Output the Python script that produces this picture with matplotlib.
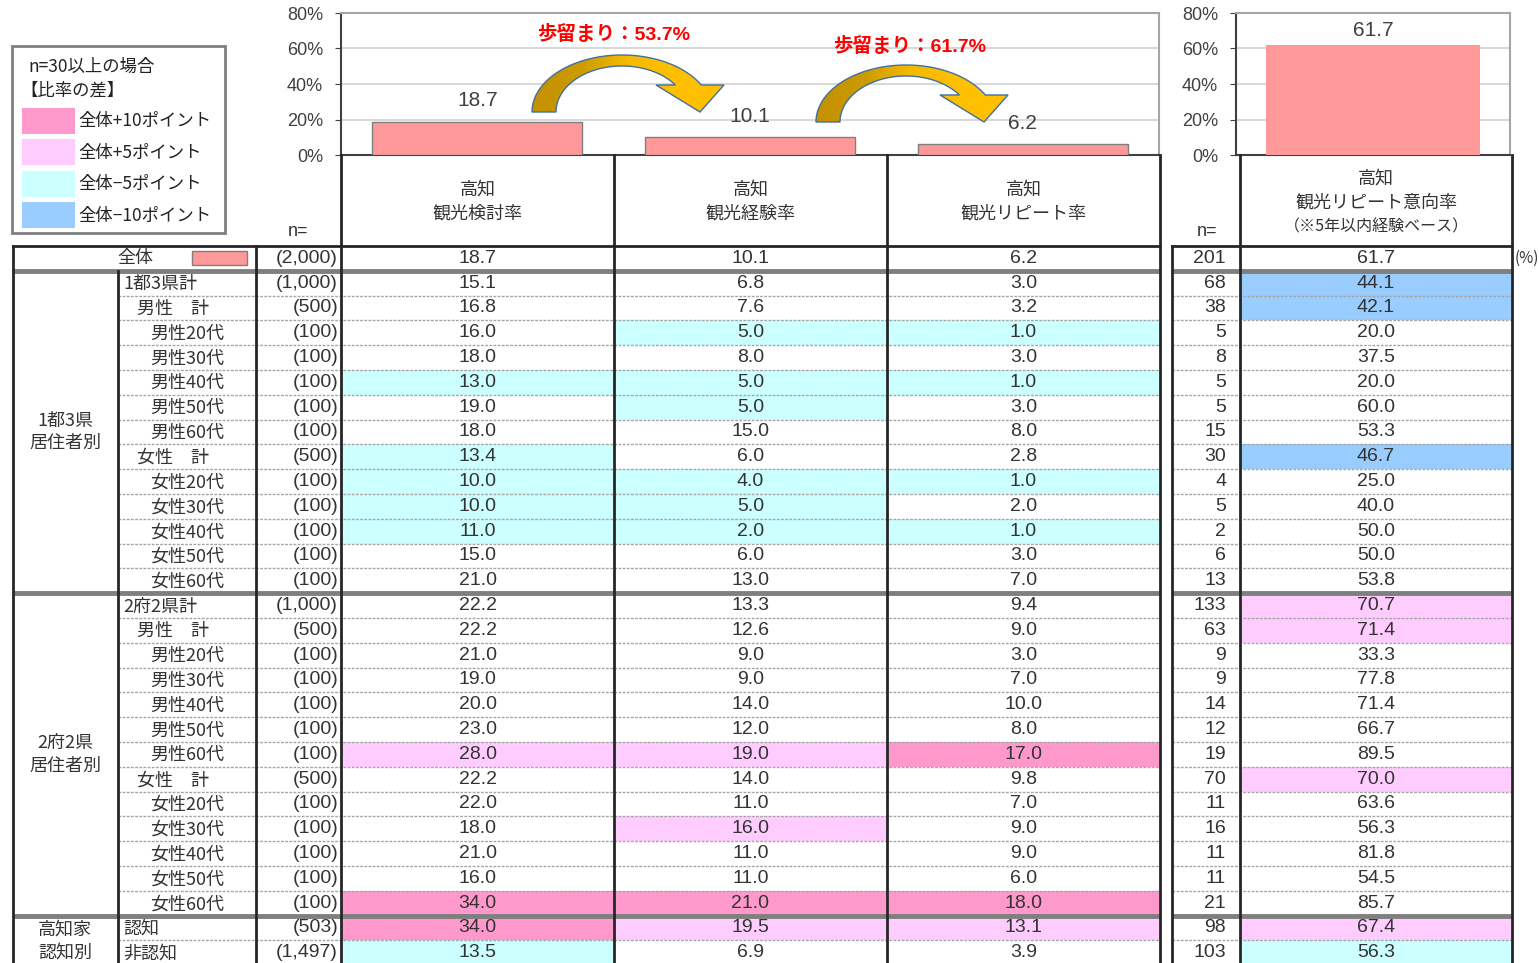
import matplotlib
matplotlib.use('Agg')
import matplotlib.pyplot as plt
import numpy as np
from matplotlib.path import Path
from matplotlib.patches import PathPatch, Rectangle
from matplotlib.colors import LinearSegmentedColormap
from matplotlib.ticker import FuncFormatter

plt.rcParams['font.family'] = ['Liberation Sans', 'Noto Sans CJK JP', 'DejaVu Sans']
JP = ['Noto Sans CJK JP', 'DejaVu Sans']
NUM = ['Liberation Sans Narrow', 'Liberation Sans', 'Noto Sans CJK JP']

# ---- data ----
funnel_cols = ['観光検討率', '観光経験率', '観光リピート率']
funnel_total = [18.7, 10.1, 6.2]
yield_text = ['歩留まり：53.7%', '歩留まり：61.7%']
intent_total = 61.7
n_total = 2000
n_intent_total = 201

group_names = ['1都3県\n居住者別', '2府2県\n居住者別', '高知家\n認知別']
group_sizes = [13, 13, 2]
row_labels = ['1都3県計', '男性　計', '男性20代', '男性30代', '男性40代', '男性50代', '男性60代',
              '女性　計', '女性20代', '女性30代', '女性40代', '女性50代', '女性60代',
              '2府2県計', '男性　計', '男性20代', '男性30代', '男性40代', '男性50代', '男性60代',
              '女性　計', '女性20代', '女性30代', '女性40代', '女性50代', '女性60代',
              '認知', '非認知']
row_level = [0, 1, 2, 2, 2, 2, 2, 1, 2, 2, 2, 2, 2,
             0, 1, 2, 2, 2, 2, 2, 1, 2, 2, 2, 2, 2,
             0, 0]
n_base = [1000, 500, 100, 100, 100, 100, 100, 500, 100, 100, 100, 100, 100,
          1000, 500, 100, 100, 100, 100, 100, 500, 100, 100, 100, 100, 100,
          503, 1497]
rate_consider = [15.1, 16.8, 16.0, 18.0, 13.0, 19.0, 18.0, 13.4, 10.0, 10.0, 11.0, 15.0, 21.0,
                 22.2, 22.2, 21.0, 19.0, 20.0, 23.0, 28.0, 22.2, 22.0, 18.0, 21.0, 16.0, 34.0,
                 34.0, 13.5]
rate_experience = [6.8, 7.6, 5.0, 8.0, 5.0, 5.0, 15.0, 6.0, 4.0, 5.0, 2.0, 6.0, 13.0,
                   13.3, 12.6, 9.0, 9.0, 14.0, 12.0, 19.0, 14.0, 11.0, 16.0, 11.0, 11.0, 21.0,
                   19.5, 6.9]
rate_repeat = [3.0, 3.2, 1.0, 3.0, 1.0, 3.0, 8.0, 2.8, 1.0, 2.0, 1.0, 3.0, 7.0,
               9.4, 9.0, 3.0, 7.0, 10.0, 8.0, 17.0, 9.8, 7.0, 9.0, 9.0, 6.0, 18.0,
               13.1, 3.9]
n_intent = [68, 38, 5, 8, 5, 5, 15, 30, 4, 5, 2, 6, 13,
            133, 63, 9, 9, 14, 12, 19, 70, 11, 16, 11, 11, 21,
            98, 103]
rate_intent = [44.1, 42.1, 20.0, 37.5, 20.0, 60.0, 53.3, 46.7, 25.0, 40.0, 50.0, 50.0, 53.8,
               70.7, 71.4, 33.3, 77.8, 71.4, 66.7, 89.5, 70.0, 63.6, 56.3, 81.8, 54.5, 85.7,
               67.4, 56.3]

legend_labels = ['全体+10ポイント', '全体+5ポイント', '全体−5ポイント', '全体−10ポイント']
legend_colors = ['#FF99CC', '#FFCCFF', '#CCFFFF', '#99CCFF']
BAR = '#FF9999'
TXT = '#333333'


def diff_color(v, base, n):
    if n < 30:
        return None
    d = v - base
    if d >= 10:
        return legend_colors[0]
    if d >= 5:
        return legend_colors[1]
    if d <= -10:
        return legend_colors[3]
    if d <= -5:
        return legend_colors[2]
    return None


W, H = 1539, 963
fig = plt.figure(figsize=(W / 100, H / 100), dpi=100)


def style_chart(ax):
    ax.set_ylim(0, 80)
    ax.set_yticks(range(0, 81, 20))
    ax.yaxis.set_major_formatter(FuncFormatter(lambda v, p: f'{v:.0f}%'))
    ax.set_xticks([])
    ax.grid(axis='y', color='#D9D9D9', lw=1.5, zorder=0)
    ax.set_axisbelow(True)
    ax.tick_params(axis='y', length=4, color='#404040', labelsize=13, labelcolor='#404040', pad=9)
    for s in ['top', 'right']:
        ax.spines[s].set_color('#A6A6A6')
        ax.spines[s].set_linewidth(1.5)
    for s in ['left', 'bottom']:
        ax.spines[s].set_color('#404040')
        ax.spines[s].set_linewidth(1.5)


# funnel bars
ax1 = fig.add_axes([341 / W, 1 - 155 / H, (1159 - 341) / W, (155 - 13) / H])
xs = np.arange(len(funnel_total))
ax1.bar(xs, funnel_total, width=0.77, color=BAR, edgecolor='#7F7F7F', lw=1, zorder=3)
ax1.set_xlim(-0.5, 2.5)
style_chart(ax1)
for i, v in enumerate(funnel_total):
    ax1.annotate(f'{v:.1f}', (i, v), xytext=(0, 15), textcoords='offset points',
                 ha='center', va='center', fontsize=15, family=NUM, color='#404040')

# repeat intent bar
ax2 = fig.add_axes([1236 / W, 1 - 155 / H, (1510 - 1236) / W, (155 - 13) / H])
ax2.bar([0], [intent_total], width=0.78, color=BAR, zorder=3)
ax2.set_xlim(-0.5, 0.5)
style_chart(ax2)
ax2.annotate(f'{intent_total:.1f}', (0, intent_total), xytext=(0, 11), textcoords='offset points',
             ha='center', va='center', fontsize=15, family=NUM, color='#404040')

# pixel overlay
ov = fig.add_axes([0, 0, 1, 1])
ov.patch.set_visible(False)
ov.axis('off')

gold = LinearSegmentedColormap.from_list('gold', ['#C49000', '#CC9A00', '#F5BA00', '#FFC000', '#FFC000'])


def curved_arrow(cx, cy):
    rxo, ryo, rxi, ryi, hb = 90, 57, 66, 46, 27
    to = np.arcsin(hb / ryo)
    ti = np.arcsin(hb / ryi)
    a = np.linspace(np.pi, to, 60)
    outer = np.c_[cx + rxo * np.cos(a), cy - ryo * np.sin(a)]
    b = np.linspace(ti, np.pi, 60)
    inner = np.c_[cx + rxi * np.cos(b), cy - ryi * np.sin(b)]
    head = np.array([[cx + 102, cy - hb], [cx + 78, cy], [cx + 34, cy - hb]])
    pts = np.vstack([outer, head, inner, outer[:1]])
    patch = PathPatch(Path(pts, closed=True), facecolor='none', edgecolor='#41719C', lw=1, zorder=6)
    ov.add_patch(patch)
    im = ov.imshow(np.linspace(0, 1, 256)[None, :], cmap=gold, aspect='auto',
                   extent=(cx - 92, cx + 104, cy + 2, cy - ryo - 2), zorder=5)
    im.set_clip_path(patch)


curved_arrow(622, 112)
curved_arrow(906, 122)
ov.text(614, 35, yield_text[0], ha='center', va='center', fontsize=14, fontweight='bold',
        color='#FF0000', family=NUM)
ov.text(910, 46, yield_text[1], ha='center', va='center', fontsize=14, fontweight='bold',
        color='#FF0000', family=NUM)

# legend box
ov.add_patch(Rectangle((12, 46), 213, 187, facecolor='white', edgecolor='#7F7F7F', lw=2, zorder=2))
ov.text(28, 67, 'n=30以上の場合', ha='left', va='center', fontsize=12.5, family=JP, color='#222222')
ov.text(20, 91, '【比率の差】', ha='left', va='center', fontsize=12.5, family=JP, color='#222222')
for k, (lab, c) in enumerate(zip(legend_labels, legend_colors)):
    y0 = 108 + k * 31.5
    ov.add_patch(Rectangle((22, y0), 53, 26, facecolor=c, edgecolor='none', zorder=3))
    ov.text(78, y0 + 13, lab, ha='left', va='center', fontsize=12.5, family=JP, color='#222222')

# headers
col_bounds = [(341, 614), (614, 887), (887, 1160)]
for (x0, x1), name in zip(col_bounds, funnel_cols):
    ov.text((x0 + x1) / 2, 190, '高知', ha='center', va='center', fontsize=13, family=JP, color=TXT)
    ov.text((x0 + x1) / 2, 214, name, ha='center', va='center', fontsize=13, family=JP, color=TXT)
ov.text(1376, 179, '高知', ha='center', va='center', fontsize=13, family=JP, color=TXT)
ov.text(1376, 203, '観光リピート意向率', ha='center', va='center', fontsize=13, family=JP, color=TXT)
ov.text(1376, 227, '（※5年以内経験ベース）', ha='center', va='center', fontsize=11.5, family=JP, color=TXT)
ov.text(298, 232, 'n=', ha='center', va='center', fontsize=13, color=TXT)
ov.text(1207, 232, 'n=', ha='center', va='center', fontsize=13, color=TXT)

# table geometry
P = 24.8
T0 = 246.0


def top(r):
    return T0 + r * P


n_rows = 1 + len(row_labels)
y_end = H

# overall row
yc = top(0) + P / 2
ov.text(135, yc, '全体', ha='center', va='center', fontsize=13, family=JP, color=TXT)
ov.add_patch(Rectangle((192, yc - 7), 55, 14, facecolor=BAR, edgecolor='#7F7F7F', lw=1, zorder=3))
ov.text(338, yc, f'({n_total:,})', ha='right', va='center', fontsize=14, family=NUM, color=TXT)
for (x0, x1), v in zip(col_bounds, funnel_total):
    ov.text((x0 + x1) / 2, yc, f'{v:.1f}', ha='center', va='center', fontsize=14, family=NUM, color=TXT)
ov.text(1226, yc, f'{n_intent_total}', ha='right', va='center', fontsize=14, family=NUM, color=TXT)
ov.text(1376, yc, f'{intent_total:.1f}', ha='center', va='center', fontsize=14, family=NUM, color=TXT)
ov.text(1515, yc, '(%)', ha='left', va='center', fontsize=11, family=JP, color=TXT)

# body rows
indent = [123, 137, 150]
cols = [rate_consider, rate_experience, rate_repeat]
for i, lab in enumerate(row_labels):
    r = i + 1
    y0, y1 = top(r), top(r + 1)
    yc = (y0 + y1) / 2
    for (x0, x1), vals, base in zip(col_bounds, cols, funnel_total):
        c = diff_color(vals[i], base, n_base[i])
        if c:
            ov.add_patch(Rectangle((x0, y0), x1 - x0, y1 - y0, facecolor=c, edgecolor='none', zorder=1))
        ov.text((x0 + x1) / 2, yc, f'{vals[i]:.1f}', ha='center', va='center', fontsize=14,
                family=NUM, color=TXT, zorder=4)
    c = diff_color(rate_intent[i], intent_total, n_intent[i])
    if c:
        ov.add_patch(Rectangle((1240, y0), 272, y1 - y0, facecolor=c, edgecolor='none', zorder=1))
    ov.text(1376, yc, f'{rate_intent[i]:.1f}', ha='center', va='center', fontsize=14,
            family=NUM, color=TXT, zorder=4)
    ov.text(1226, yc, f'{n_intent[i]}', ha='right', va='center', fontsize=14, family=NUM, color=TXT)
    ov.text(338, yc, f'({n_base[i]:,})', ha='right', va='center', fontsize=14, family=NUM, color=TXT)
    ov.text(indent[row_level[i]], yc + 1, lab, ha='left', va='center', fontsize=13, family=JP, color=TXT)

# group labels and separators
start = 1
for g, size in zip(group_names, group_sizes):
    y0, y1 = top(start), top(start + size)
    yc = (y0 + y1) / 2 if size > 2 else y0 + 25
    ov.text(65, yc, g, ha='center', va='center', fontsize=13, family=JP, color=TXT, linespacing=1.35)
    for seg in [(13, 1160), (1172, 1512)]:
        ov.plot(seg, [y0, y0], color='#7F7F7F', lw=3.5, zorder=5, solid_capstyle='butt')
    for k in range(1, size):
        yy = top(start + k)
        for seg in [(118, 1160), (1172, 1512)]:
            ov.plot(seg, [yy, yy], color='#A6A6A6', lw=1, ls=(0, (2, 1)), zorder=5)
    start += size

# frame lines
dark = '#262626'
for seg in [(13, 1160), (1172, 1512)]:
    ov.plot(seg, [T0, T0], color=dark, lw=2, zorder=6)
for x, y0 in [(13, T0), (118, top(1)), (256, T0), (1172, T0),
              (341, 155), (614, 155), (887, 155), (1160, 155), (1240, 155), (1512, 155)]:
    ov.plot([x, x], [y0, y_end], color=dark, lw=2, zorder=6)

ov.set_xlim(0, W)
ov.set_ylim(H, 0)

fig.savefig('out.png', dpi=100)
